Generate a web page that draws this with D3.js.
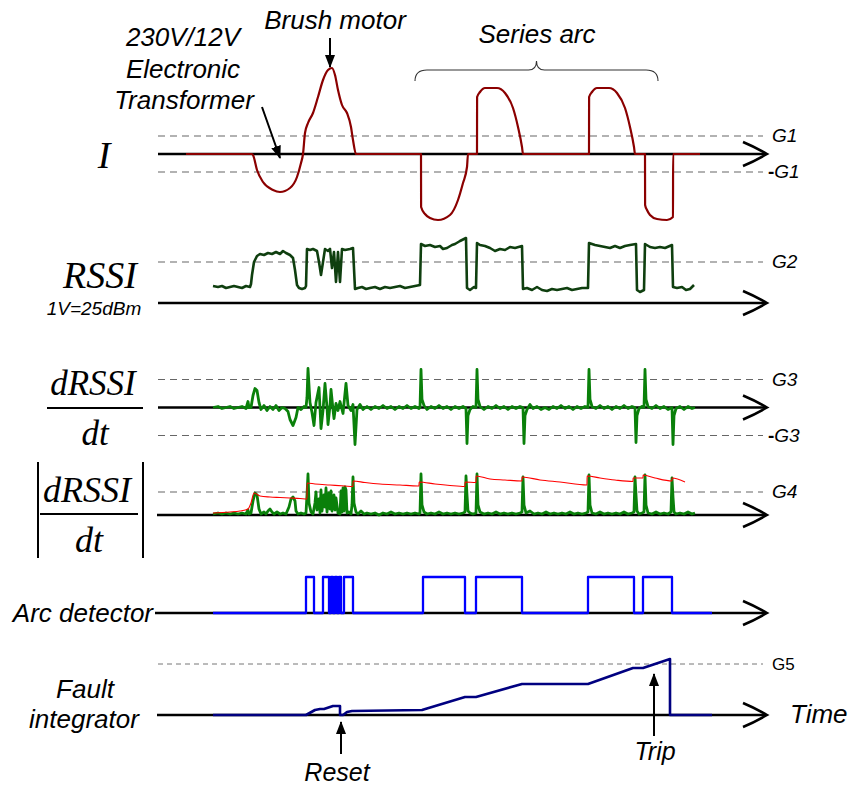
<!DOCTYPE html>
<html>
<head>
<meta charset="utf-8">
<script src="https://cdn.jsdelivr.net/npm/d3@7"></script>
<style>
body { margin: 0; background: #fff; }
svg { display: block; background: #fff; }
.sans { font-family: "Liberation Sans", Arial, sans-serif; font-style: italic; fill: #000; }
.serif { font-family: "Liberation Serif", "Times New Roman", serif; font-style: italic; fill: #000; }
</style>
</head>
<body>
<div id="chart"></div>
<script>
// time is in samples, every signal level is in raw counts

// line current I (G1 = 18)
var currentI = [[-27,0],[39,0],[40,-1],[44,-16],[50,-28],[60,-36],[67,-38],[77,-34],[84,-23],[88,-9],[90,0],
    [92,21],[95,31],[100,41],[105,57],[110,74],[115,84],[119,86],[122,79],[125,64],[129,49],[134,41],[138,27],[140,14],[143,0],
    [208,0],[208.1,-53],[212,-60],[217,-64],[225,-66],[237,-61],[245,-46],[250,-29],[254,-13],[255,0],
    [264,0],[264.1,57],[267,62],[272,66],[284,66],[292,61],[300,46],[305,27],[309,7],[310,0],
    [376,0],[376.1,57],[379,62],[384,66],[396,66],[404,61],[412,46],[417,27],[421,7],[422,0],
    [432,0],[432.1,-51],[434,-56],[437,-61],[444,-65],[454,-66],[460,-63],[460.1,0],[487,0]]

// received signal strength
var rssi = [[0,17],[5,16],[9,17],[13,15],[17,16],[21,17],[25,16],[29,15],[33,17],[37,16],[38,19],[39,28],[41,41],[44,47],
    [47,49],[51,48],[55,50],[59,49],[63,51],[67,49],[70,52],[73,50],[77,48],[80,45],[82,33],[84,18],[86,15],[89,14],[92,15],[93,17],
    [94,54],[97,53],[100,54],[104,52],[106,41],[108,28],[110,41],[112,54],[115,52],[117,54],[119,35],[121,51],[123,21],[125,51],
    [127,21],[129,54],[132,53],[137,54],[140,55],[142,14],[145,15],[149,16],[153,14],[157,15],[162,16],[167,14],[172,16],[177,15],
    [182,16],[187,17],[192,15],[197,16],[202,17],[207,18],[208,59],[212,57],[217,58],[222,56],[227,57],[230,54],[234,55],[239,58],
    [242,59],[247,62],[251,64],[253,65],[254,15],[257,13],[261,16],[263,15],[264,60],[267,58],[272,57],[277,55],[282,52],[287,54],
    [292,53],[297,56],[302,55],[309,57],[310,14],[314,15],[319,13],[324,16],[329,13],[334,12],[339,14],[344,13],[349,14],[354,15],
    [359,13],[364,14],[369,15],[375,15],[376,60],[382,58],[387,57],[392,56],[397,55],[402,57],[407,55],[412,57],[417,58],[423,59],
    [424,13],[427,11],[431,13],[432,59],[437,56],[442,55],[447,56],[452,55],[459,58],[460,16],[464,15],[469,16],[473,13],[477,14],[481,18]]

// derivative of RSSI
var dRssi = [[0,0],[5,1],[9,-1],[13,0],[17,1],[21,-1],[25,0],[29,1],[33,-1],[35,6],[36,0],[38,0],[40,12],[42,19],[44,17],[46,5],
    [48,-2],[51,2],[54,-3],[57,1],[60,-2],[63,2],[66,-3],[69,0],[72,-1],[75,-4],[77,-12],[80,-18],[83,-10],[85,0],[88,-2],[91,1],
    [93,0],[94,10],[95,39],[97,5],[99,-5],[101,-18],[103,5],[106,20],[108,-21],[110,-3],[112,24],[114,0],[115,-17],[117,2],[118,18],
    [120,-2],[121,-11],[123,4],[125,-3],[127,6],[130,-6],[133,24],[135,2],[138,-3],[140,3],[142,-37],[144,-2],[147,3],[150,-2],
    [154,1],[158,-2],[162,1],[166,-1],[170,2],[174,-1],[178,1],[182,-2],[186,1],[190,-1],[194,2],[198,-1],[202,1],[206,-1],[207,0],
    [208,38],[209,8],[211,2],[214,-2],[218,1],[222,-1],[226,2],[230,-1],[234,1],[238,-2],[242,1],[246,-1],[250,1],[253,-1],[254,-36],
    [255,-8],[257,-2],[260,1],[263,0],[264,38],[265,8],[267,1],[271,-2],[275,1],[279,-1],[283,2],[287,-1],[291,1],[295,-2],[299,1],
    [303,-1],[307,1],[310,0],[311,-36],[312,-8],[314,-2],[317,3],[320,-1],[324,1],[328,-2],[332,0],[336,-2],[340,1],[344,-1],[348,2],
    [352,-1],[356,1],[360,-2],[364,1],[368,-1],[372,1],[375,0],[376,38],[377,8],[379,1],[383,-1],[387,2],[391,-1],[395,1],[399,-2],
    [403,1],[407,-1],[411,2],[415,-1],[419,1],[422,0],[423,-35],[424,-8],[426,-1],[429,1],[431,0],[432,38],[433,8],[435,1],[439,-1],
    [443,2],[447,-1],[451,1],[455,-2],[459,0],[460,-37],[461,-8],[463,-1],[467,1],[471,-2],[475,1],[479,-1],[482,0]]

// absolute derivative
var absDRssi = [[0,1],[5,2],[9,1],[13,2],[17,1],[21,2],[25,1],[29,2],[33,1],[35,5],[36,1],[38,2],[40,14],[42,22],[44,20],[46,6],
    [48,1],[51,3],[53,1],[55,4],[57,6],[59,3],[61,1],[64,3],[67,1],[70,2],[73,1],[76,8],[78,16],[80,18],[82,14],[83,4],[85,1],[88,2],
    [91,1],[93,2],[94,20],[95,41],[96,12],[98,3],[100,1],[102,12],[103,23],[104,5],[106,16],[107,2],[108,25],[109,4],[111,20],
    [112,8],[113,27],[114,3],[116,22],[117,6],[118,24],[119,4],[121,20],[122,5],[123,17],[125,2],[127,1],[128,24],
    [129,3],[130,27],[131,4],[132,28],[133,25],[134,2],[136,3],[138,1],[139,10],[140,38],[141,12],[143,3],[145,1],[148,4],[151,1],
    [154,2],[158,1],[162,2],[166,0],[170,2],[174,1],[178,3],[182,1],[186,2],[190,1],[194,2],[198,1],[202,2],[206,1],[207,2],[208,41],
    [209,10],[211,3],[214,1],[218,2],[222,1],[226,3],[230,1],[234,2],[238,1],[242,2],[246,1],[250,2],[252,3],[253,39],[254,20],[255,4],
    [257,2],[260,1],[263,2],[264,41],[265,10],[267,3],[271,1],[275,2],[279,1],[283,3],[287,1],[291,2],[295,1],[299,2],[303,1],[307,2],
    [309,3],[310,38],[311,10],[313,2],[317,4],[321,1],[325,2],[329,1],[333,3],[337,1],[341,2],[345,1],[349,2],[353,1],[357,3],[361,1],
    [365,2],[369,1],[373,2],[375,3],[376,40],[377,10],[379,2],[383,1],[387,3],[391,1],[395,2],[399,1],[403,2],[407,1],[411,3],[415,1],
    [419,2],[421,3],[422,38],[423,20],[424,4],[426,1],[429,2],[431,3],[432,40],[433,10],[435,2],[439,1],[443,3],[447,1],[451,2],[455,1],
    [458,3],[459,37],[460,18],[461,3],[463,1],[467,2],[471,1],[475,3],[479,1],[482,2]]

// peak envelope of |dRSSI/dt|
var envelope = [[0,2],[17,3],[27,4],[35,6],[38,12],[41,22],[47,19],[57,18],[67,17.5],[77,17],[87,16.5],[94,16],[94.1,32],
    [102,31],[117,30],[132,29],[140,28.5],[140.1,34],[152,32.5],[167,31],[187,30],[205,29],[206,29],[206.1,33],[222,31],
    [237,29.5],[252,28.5],[252.1,33],[263,32.5],[263.1,39],[277,36],[292,35],[309,34],[309.1,38],[327,35],[347,33],[374,30],
    [374.1,39],[387,37],[402,35],[420,33.5],[420.1,37],[430,37],[430.1,40],[442,37],[459,34],[459.1,37],[472,33]]

// arc detector output: [start, end] of each high pulse
var arcPulses = [[93,101],[110,116],[118,120],[122,124],[126,128],[131,140],[210,252],[263,309],[375,421],[430,459]]
var arcSpan = [0, 499]

// fault integrator
var faultInt = [[0,0],[93,0],[102,5],[107,6],[111,6],[120,9],[127,9],[127,0],[130,0],[134,3],[139,4],[209,5],[252,18],
    [263,18],[309,31],[375,31],[420,47],[430,47],[457,56],[457,0],[499,0]]

// thresholds
var guidesI = [18, -18]
var guideLabelsI = ["G1", "-G1"]
var guidesRssi = [41]
var guideLabelsRssi = ["G2"]
var guidesD = [28, -28]
var guideLabelsD = ["G3", "-G3"]
var guidesAbs = [23]
var guideLabelsAbs = ["G4"]
var guidesFault = [51]
var guideLabelsFault = ["G5"]

// event markers
var resetTime = 128
var tripTime = 441
var brushTime = 117
var transformerArrow = [[49, 107], [67, 158]]
var seriesArcSpan = [202, 445]

var width = 851, height = 785
var tEnd = 554, tGuideEnd = 550
var xScale = d3.scaleLinear().domain([-55, 554]).range([158, 767])

var yI = d3.scaleLinear().domain([-18, 18]).range([172, 136])
var yRssi = d3.scaleLinear().domain([0, 41]).range([303, 262])
var yD = d3.scaleLinear().domain([-28, 28]).range([435.5, 379.5])
var yAbs = d3.scaleLinear().domain([0, 23]).range([515, 492])
var yArc = d3.scaleLinear().domain([0, 1]).range([613, 577])
var yFault = d3.scaleLinear().domain([0, 51]).range([715, 664])

var svg = d3.select("#chart").append("svg")
    .attr("width", width)
    .attr("height", height)

svg.append("defs").append("marker")
    .attr("id", "head")
    .attr("viewBox", "0 0 13 10")
    .attr("refX", 12)
    .attr("refY", 5)
    .attr("markerWidth", 13)
    .attr("markerHeight", 10)
    .attr("markerUnits", "userSpaceOnUse")
    .attr("orient", "auto")
    .append("path")
    .attr("d", "M0,0L13,5L0,10z")
    .attr("fill", "#000")

function drawGuides(ys, values, labels, small)
{
    values.forEach(function(v, i)
    {
        svg.append("line")
            .attr("x1", xScale(-55)).attr("x2", xScale(tGuideEnd))
            .attr("y1", ys(v)).attr("y2", ys(v))
            .attr("stroke", small ? "#777" : "#666")
            .attr("stroke-width", small ? 1 : 1.2)
            .attr("stroke-dasharray", small ? "5,4" : "7,5")
        var lab = labels[i]
        var txt = svg.append("text")
            .attr("class", "sans")
            .attr("x", xScale(tEnd) + (lab[0] == "-" ? 1 : 5))
            .attr("y", ys(v) + 6)
            .style("font-size", small ? "17px" : "19px")
        if (small) txt.style("font-style", "normal")
        if (lab[0] == "-")
        {
            txt.append("tspan").style("font-weight", "bold").style("font-style", "normal").text("-")
            txt.append("tspan").text(lab.slice(1))
        }
        else txt.text(lab)
    })
}

function drawAxis(y, t0)
{
    var xe = xScale(tEnd)
    svg.append("line")
        .attr("x1", xScale(t0)).attr("x2", xe - 1)
        .attr("y1", y).attr("y2", y)
        .attr("stroke", "#000").attr("stroke-width", 2.6)
    svg.append("path")
        .attr("d", "M" + (xe - 24) + "," + (y - 12) + "Q" + (xe - 12) + "," + (y - 7) + " " + xe + "," + y +
            "Q" + (xe - 12) + "," + (y + 7) + " " + (xe - 24) + "," + (y + 12))
        .attr("fill", "none").attr("stroke", "#000").attr("stroke-width", 2.6)
}

function trace(data, ys, color, w, curve)
{
    svg.append("path")
        .datum(data)
        .attr("d", d3.line().x(d => xScale(d[0])).y(d => ys(d[1])).curve(curve || d3.curveLinear))
        .attr("fill", "none")
        .attr("stroke", color)
        .attr("stroke-width", w)
        .attr("stroke-linejoin", "round")
}

function label(text, x, y, cls, size, anchor)
{
    return svg.append("text")
        .attr("class", cls)
        .attr("x", x).attr("y", y)
        .style("font-size", size + "px")
        .attr("text-anchor", anchor || "middle")
        .text(text)
}

function arrow(x1, y1, x2, y2)
{
    svg.append("line")
        .attr("x1", x1).attr("y1", y1).attr("x2", x2).attr("y2", y2)
        .attr("stroke", "#000").attr("stroke-width", 2)
        .attr("marker-end", "url(#head)")
}

// guides
drawGuides(yI, guidesI, guideLabelsI)
drawGuides(yRssi, guidesRssi, guideLabelsRssi)
drawGuides(yD, guidesD, guideLabelsD)
drawGuides(yAbs, guidesAbs, guideLabelsAbs)
drawGuides(yFault, guidesFault, guideLabelsFault, true)

// axes
drawAxis(yI(0), -55)
drawAxis(yRssi(0), -55)
drawAxis(yD(0), -55)
drawAxis(yAbs(0), -56)
drawAxis(yArc(0), -58)
drawAxis(yFault(0), -56)

// signals
trace(currentI, yI, "#8b0000", 2.2, d3.curveMonotoneX)
trace(rssi, yRssi, "#0f3f0f", 2.6)
trace(dRssi, yD, "#0a800a", 2.8)
trace(absDRssi, yAbs, "#0a800a", 2.8)
trace(envelope, yAbs, "#ff0000", 1.1, d3.curveMonotoneX)

var arcPts = [[arcSpan[0], 0]]
arcPulses.forEach(function(p) { arcPts.push([p[0], 0], [p[0], 1], [p[1], 1], [p[1], 0]) })
arcPts.push([arcSpan[1], 0])
trace(arcPts, yArc, "#0000ff", 2.3)
trace(faultInt, yFault, "#000080", 2.6)

// panel labels
label("I", 104, 168, "serif", 38)
label("RSSI", 100, 288, "serif", 38)
label("1V=25dBm", 94, 315, "sans", 19)

label("dRSSI", 93, 395, "serif", 35)
svg.append("line").attr("x1", 47).attr("x2", 143).attr("y1", 408).attr("y2", 408).attr("stroke", "#000").attr("stroke-width", 2)
label("dt", 95, 445, "serif", 35)

label("dRSSI", 87, 502, "serif", 36)
svg.append("line").attr("x1", 40).attr("x2", 138).attr("y1", 514).attr("y2", 514).attr("stroke", "#000").attr("stroke-width", 2)
label("dt", 89, 552, "serif", 36)
svg.append("line").attr("x1", 38).attr("x2", 38).attr("y1", 462).attr("y2", 558).attr("stroke", "#000").attr("stroke-width", 2)
svg.append("line").attr("x1", 143).attr("x2", 143).attr("y1", 462).attr("y2", 558).attr("stroke", "#000").attr("stroke-width", 2)

label("Arc detector", 153, 622, "sans", 26, "end")
label("Fault", 85, 698, "sans", 26)
label("integrator", 84, 728, "sans", 26)
label("Time", 790, 723, "sans", 26, "start")

// annotations
label("230V/12V", 183, 46, "sans", 26)
label("Electronic", 183, 78, "sans", 26)
label("Transformer", 184, 109, "sans", 26)
arrow(xScale(transformerArrow[0][0]), transformerArrow[0][1], xScale(transformerArrow[1][0]), transformerArrow[1][1])

label("Brush motor", 335, 29, "sans", 26)
arrow(xScale(brushTime), 38, xScale(brushTime), 67)

label("Series arc", 537, 43, "sans", 26)
var b0 = xScale(seriesArcSpan[0]), b1 = xScale(seriesArcSpan[1]), bm = (b0 + b1) / 2
svg.append("path")
    .attr("d", "M" + b0 + ",81 Q" + b0 + ",70 " + (b0 + 12) + ",70 L" + (bm - 8) + ",70 Q" + bm + ",70 " + bm + ",61" +
        " Q" + bm + ",70 " + (bm + 8) + ",70 L" + (b1 - 12) + ",70 Q" + b1 + ",70 " + b1 + ",81")
    .attr("fill", "none").attr("stroke", "#333").attr("stroke-width", 1.1)

label("Reset", 337, 781, "sans", 25)
arrow(xScale(resetTime), 754, xScale(resetTime), 722)
label("Trip", 655, 760, "sans", 25)
arrow(xScale(tripTime), 736, xScale(tripTime), 674)
</script>
</body>
</html>
